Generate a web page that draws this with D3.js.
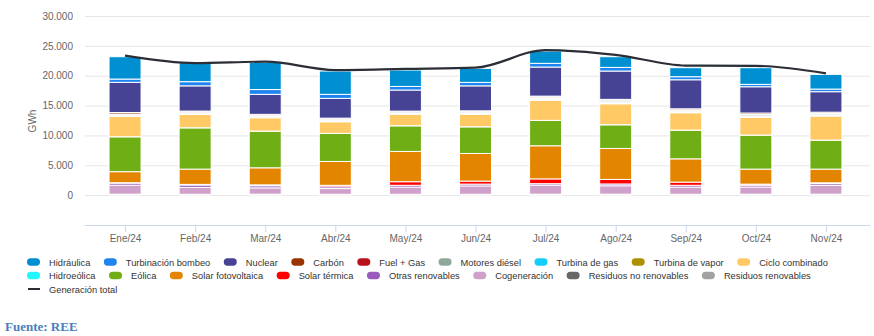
<!DOCTYPE html>
<html>
<head>
<meta charset="utf-8">
<script src="https://cdn.jsdelivr.net/npm/d3@7"></script>
<style>
  body { margin: 0; background: #fff; }
  text { font-family: "Liberation Sans", Arial, sans-serif; }
</style>
</head>
<body>
<div id="chart"></div>
<script>
// data (GWh)
var months = ["Ene/24","Feb/24","Mar/24","Abr/24","May/24","Jun/24","Jul/24","Ago/24","Sep/24","Oct/24","Nov/24"];

var hidraulica      = [3740, 3190, 4560, 3900, 2750, 2350, 2060, 1790, 1510, 2790, 2460];
var turbBombeo      = [ 550,  700,  800,  680,  600,  580,  620,  610,  510,  400,  440];
var nuclear         = [5050, 4220, 3350, 3310, 3530, 4180, 4870, 4740, 4860, 4400, 3430];
var carbon          = [ 250,  180,  150,  150,   50,   90,  150,  150,  200,  250,  220];
var fuelGas         = [  10,   10,   10,   10,   10,   10,   10,   10,   10,   10,   10];
var motoresDiesel   = [ 200,  190,  200,  200,  210,  210,  230,  240,  200,  220,  200];
var turbinaGas      = [  80,   90,  100,  120,  140,  150,  170,  180,  120,  120,  100];
var turbinaVapor    = [ 120,  110,  110,  120,  140,  140,  150,  160,  130,  130,  120];
var cicloCombinado  = [3400, 2220, 2230, 1950, 1900, 2070, 3350, 3510, 2910, 2960, 4020];
var hidroeolica     = [   2,    2,    2,    2,    2,    2,    2,    2,    2,    2,    2];
var eolica          = [5850, 6920, 6150, 4700, 4300, 4470, 4250, 3970, 4810, 5700, 4860];
var solarFV         = [1850, 2560, 2860, 3990, 5070, 4630, 5550, 5190, 3900, 2520, 2290];
var solarTermica    = [  60,  100,  150,  250,  600,  500,  800,  760,  530,  170,  150];
var otrasRenov      = [ 350,  400,  350,  300,  300,  300,  250,  300,  300,  300,  300];
var cogeneracion    = [1500, 1150, 1050,  950, 1200, 1400, 1500, 1400, 1200, 1200, 1450];
var residuosNoRenov = [ 100,   90,  100,   90,   90,   90,  100,  100,   90,  100,  100];
var residuosRenov   = [  70,   60,   70,   60,   60,   60,   70,   70,   60,   70,   70];

var generacionTotal = [23350, 22100, 22350, 20950, 21150, 21350, 24300, 23500, 21700, 21650, 20400];

var yTicks = [0, 5000, 10000, 15000, 20000, 25000, 30000];

// legend order (first one sits on top of the stack)
var series = [
  {name: "Hidráulica",             color: "#0090d1", values: hidraulica},
  {name: "Turbinación bombeo",     color: "#1e84f0", values: turbBombeo},
  {name: "Nuclear",                color: "#464394", values: nuclear},
  {name: "Carbón",                 color: "#993300", values: carbon},
  {name: "Fuel + Gas",             color: "#bb111b", values: fuelGas},
  {name: "Motores diésel",         color: "#90a89c", values: motoresDiesel},
  {name: "Turbina de gas",         color: "#14cdfc", values: turbinaGas},
  {name: "Turbina de vapor",       color: "#ad9000", values: turbinaVapor},
  {name: "Ciclo combinado",        color: "#ffca66", values: cicloCombinado},
  {name: "Hidroeólica",            color: "#1ef7fc", values: hidroeolica},
  {name: "Eólica",                 color: "#6faf15", values: eolica},
  {name: "Solar fotovoltaica",     color: "#e48500", values: solarFV},
  {name: "Solar térmica",          color: "#ff0000", values: solarTermica},
  {name: "Otras renovables",       color: "#9a5cbc", values: otrasRenov},
  {name: "Cogeneración",           color: "#cfa0ca", values: cogeneracion},
  {name: "Residuos no renovables", color: "#676767", values: residuosNoRenov},
  {name: "Residuos renovables",    color: "#a2a2a2", values: residuosRenov}
];

var W = 874, H = 336;
var plotLeft = 85, plotRight = 870, plotTop = 16, plotBottom = 225;

var svg = d3.select("#chart").append("svg")
    .attr("width", W)
    .attr("height", H);

var x = d3.scalePoint().domain(months).range([90, 861]).padding(0.5);
var barW = 32;
var y = d3.scaleLinear().domain([-5000, 30000]).range([plotBottom, plotTop]);

var es = d3.formatLocale({decimal: ",", thousands: ".", grouping: [3], currency: ["", "€"]});
var fmt = es.format(",");

// grid lines
svg.append("g")
    .attr("transform", "translate(" + plotLeft + ",0)")
    .call(d3.axisLeft(y).tickValues(yTicks).tickSize(-(plotRight - plotLeft)).tickFormat(""))
    .call(g => g.select(".domain").remove())
    .selectAll("line").attr("stroke", "#e6e6e6");

// y axis labels
svg.append("g")
    .attr("transform", "translate(" + plotLeft + ",0)")
    .call(d3.axisLeft(y).tickValues(yTicks).tickSize(0).tickPadding(12).tickFormat(fmt))
    .call(g => g.select(".domain").remove())
    .selectAll("text")
      .attr("fill", "#666")
      .style("font-size", "10px")
      .style("font-family", "'Liberation Sans', Arial, sans-serif");

svg.append("text")
    .attr("transform", "translate(36,121) rotate(-90)")
    .attr("text-anchor", "middle")
    .attr("fill", "#666")
    .style("font-size", "10px")
    .text("GWh");

// stacked bars
var table = months.map(function(m, i) {
  var row = {month: m};
  series.forEach(function(s) { row[s.name] = s.values[i]; });
  return row;
});
var keys = series.map(s => s.name).reverse();
var stacked = d3.stack().keys(keys)(table);
var colorOf = d3.scaleOrdinal().domain(series.map(s => s.name)).range(series.map(s => s.color));

svg.append("g")
  .selectAll("g")
  .data(stacked)
  .join("g")
    .attr("fill", d => colorOf(d.key))
  .selectAll("rect")
  .data(d => d)
  .join("rect")
    .attr("x", d => x(d.data.month) - barW / 2)
    .attr("width", barW)
    .attr("y", d => y(d[1]))
    .attr("height", d => Math.max(0, y(d[0]) - y(d[1])))
    .attr("stroke", "#fff")
    .attr("stroke-width", 1);

// x axis
svg.append("line")
    .attr("x1", plotLeft).attr("x2", plotRight)
    .attr("y1", plotBottom + 0.5).attr("y2", plotBottom + 0.5)
    .attr("stroke", "#ccd6eb");

svg.append("g")
    .attr("transform", "translate(0," + plotBottom + ")")
    .call(d3.axisBottom(x).tickSize(7).tickPadding(3))
    .call(g => g.select(".domain").remove())
    .call(g => g.selectAll("line").attr("stroke", "#ccd6eb"))
    .selectAll("text")
      .attr("fill", "#666")
      .style("font-size", "10px")
      .style("font-family", "'Liberation Sans', Arial, sans-serif");

// total generation line
var lineGen = d3.line()
    .x((d, i) => x(months[i]))
    .y(d => y(d))
    .curve(d3.curveMonotoneX);

svg.append("path")
    .datum(generacionTotal)
    .attr("fill", "none")
    .attr("stroke", "#2b2e36")
    .attr("stroke-width", 2.2)
    .attr("d", lineGen);

// legend
var legendItems = series.map(s => ({name: s.name, color: s.color, type: "bar"}))
    .concat([{name: "Generación total", color: "#2b2e36", type: "line"}]);

var legend = svg.append("g");
var lx = 27, ly = 262, rowH = 13.5, maxX = 862;
legendItems.forEach(function(item) {
  var g = legend.append("g");
  var t = g.append("text")
      .attr("x", 22)
      .attr("y", 3.5)
      .attr("fill", "#333")
      .style("font-size", "9.3px")
      .text(item.name);
  var tw = t.node().getComputedTextLength();
  if (lx + 22 + tw > maxX) { lx = 27; ly += rowH; }
  if (item.type === "bar") {
    g.append("rect")
        .attr("x", 0).attr("y", -3.7)
        .attr("width", 13).attr("height", 7.4)
        .attr("rx", 3.7)
        .attr("fill", item.color);
  } else {
    g.append("line")
        .attr("x1", 1).attr("x2", 13)
        .attr("y1", 0).attr("y2", 0)
        .attr("stroke", item.color)
        .attr("stroke-width", 2);
  }
  g.attr("transform", "translate(" + lx + "," + ly + ")");
  lx += 22 + tw + 13.5;
});

svg.append("text")
    .attr("x", 5)
    .attr("y", 331)
    .attr("fill", "#4a7ebb")
    .style("font-family", "'Liberation Serif', 'DejaVu Serif', serif")
    .style("font-weight", "bold")
    .style("font-size", "13px")
    .text("Fuente: REE");
</script>
</body>
</html>
